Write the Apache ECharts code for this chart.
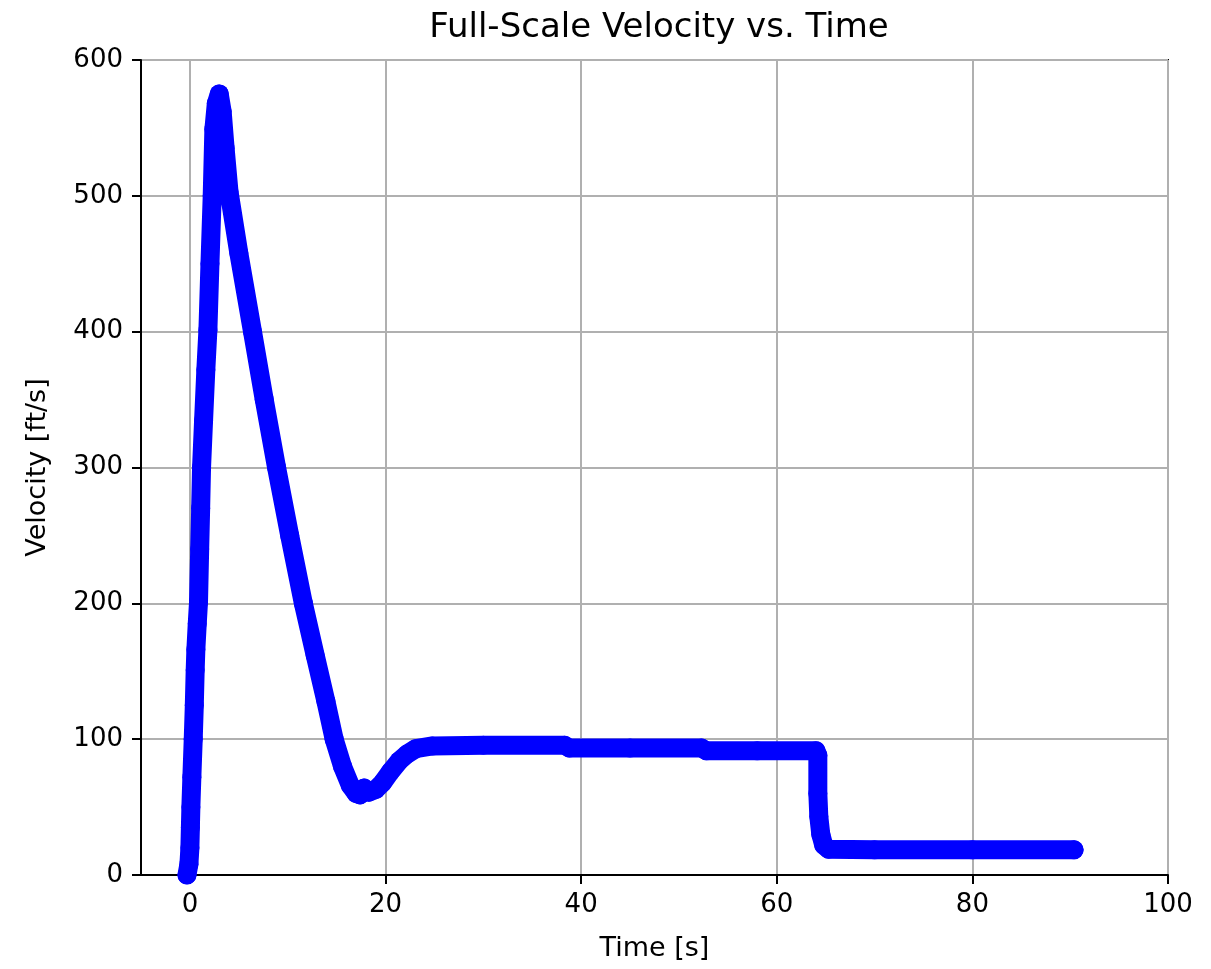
<!DOCTYPE html>
<html>
<head>
<meta charset="utf-8">
<script src="https://cdn.jsdelivr.net/npm/echarts@6/dist/echarts.min.js"></script>
<style>
  html, body { margin: 0; padding: 0; background: #fff; }
  #chart { width: 1211px; height: 969px; }
</style>
</head>
<body>
<div id="chart"></div>
<script>
// Values
var timeValues = [
  -0.3, -0.1, 0.0, 0.05, 0.1, 0.2, 0.34, 0.45, 0.54, 0.61, 0.75, 0.88, 1.0, 1.1, 1.19, 1.4, 1.63, 1.84,
  2.05, 2.28, 2.45, 2.7, 3.0, 3.3, 3.6, 4.0, 5.0, 6.4, 7.6, 8.86, 10.2, 11.6, 12.8, 13.9, 14.75, 15.6,
  16.4, 17.0, 17.4, 17.8, 18.3, 19.0, 19.7, 20.5, 21.4, 22.2, 23.1, 24.8, 30, 38.3, 38.8, 45, 52.3,
  52.8, 58, 64.0, 64.2, 64.2, 64.3, 64.5, 64.8, 65.3, 70, 80, 90.4
];
var velocityValues = [
  0, 8, 20, 35, 50, 72, 100, 125, 151, 166, 185, 201, 240, 270, 300, 335, 372, 401,
  450, 500, 549, 568, 575, 562, 535, 503, 458, 400, 350, 300, 250, 200, 162, 128, 100, 80,
  66, 60, 59, 64, 61, 63, 68, 76, 84, 89, 93, 95, 95.5, 95.5, 93.5, 93.5, 93.5,
  91.5, 91.5, 91.5, 88, 60, 43, 30, 22, 19, 18.5, 18.5, 18.5
];
var xTicks = [0, 20, 40, 60, 80, 100];
var yTicks = [0, 100, 200, 300, 400, 500, 600];

var chartTitle = "Full-Scale Velocity vs. Time";
var xName = "Time [s]";
var yName = "Velocity [ft/s]";

var points = timeValues.map(function (t, i) {
  return [t, velocityValues[i]];
});

var chart = echarts.init(document.getElementById("chart"));

var tickFont = { fontFamily: "DejaVu Sans", fontSize: 26, color: "#000" };
var nameFont = { fontFamily: "DejaVu Sans", fontSize: 27, color: "#000" };

chart.setOption({
  animation: false,
  backgroundColor: "#fff",
  title: {
    text: chartTitle,
    left: 654,
    textAlign: "center",
    top: 6,
    textStyle: { fontFamily: "DejaVu Sans", fontSize: 34, fontWeight: "normal", color: "#000" }
  },
  grid: {
    left: 141,
    right: 43,
    top: 60,
    bottom: 94,
    show: true,
    borderColor: "#000",
    borderWidth: 2
  },
  xAxis: {
    type: "value",
    min: -5,
    max: 100,
    name: xName,
    nameLocation: "middle",
    nameGap: 60,
    nameTextStyle: nameFont,
    axisLine: { onZero: false, lineStyle: { color: "#000", width: 2 } },
    axisTick: { customValues: xTicks, length: 9, lineStyle: { color: "#000", width: 2 } },
    axisLabel: Object.assign({ customValues: xTicks, margin: 17 }, tickFont),
    splitLine: { show: true, lineStyle: { color: "#b0b0b0", width: 2 } }
  },
  yAxis: {
    type: "value",
    min: yTicks[0],
    max: yTicks[yTicks.length - 1],
    interval: 100,
    name: yName,
    nameLocation: "middle",
    nameGap: 90,
    nameTextStyle: nameFont,
    axisLine: { show: true, onZero: false, lineStyle: { color: "#000", width: 2 } },
    axisTick: { show: true, length: 9, lineStyle: { color: "#000", width: 2 } },
    axisLabel: Object.assign({ margin: 18 }, tickFont),
    splitLine: { show: true, lineStyle: { color: "#b0b0b0", width: 2 } }
  },
  series: [
    {
      type: "line",
      data: points,
      symbol: "circle",
      symbolSize: 19,
      showSymbol: true,
      showAllSymbol: true,
      clip: true,
      itemStyle: { color: "#0000ff" },
      lineStyle: { color: "#0000ff", width: 19, cap: "round", join: "round" }
    }
  ]
});
</script>
</body>
</html>
